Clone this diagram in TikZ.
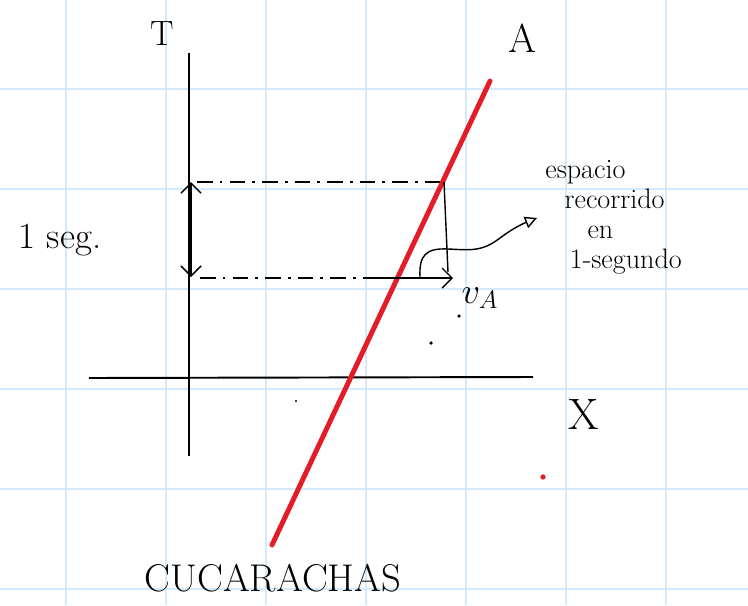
\documentclass[tikz,border=0pt]{standalone}
\usepackage{tikz}
\usetikzlibrary{arrows.meta,positioning}
\definecolor{gridblue}{RGB}{212,234,250}
\definecolor{penred}{RGB}{228,28,40}
\tikzset{
  >={Straight Barb[length=2mm]},
  axis/.style={draw, line width=1.1pt},
  worldline/.style={draw=penred, line width=2.8pt, line cap=round},
  guide/.style={draw, line width=0.8pt, dash pattern=on 9pt off 4pt on 1.5pt off 4pt},
  lbl/.style={inner sep=0pt, font=\fontsize{20}{24}\selectfont},
  note/.style={inner sep=0pt, align=left, anchor=north west,
    font=\fontsize{16}{17}\selectfont},
  speck/.style={fill, circle, inner sep=0pt, minimum size=2pt},
}

\begin{document}
\begin{tikzpicture}[x=0.2mm, y=-0.2mm]
  \useasboundingbox (0,0) rectangle (748,605);
  % squared paper
  \foreach \gx in {66,166,...,666}
    \draw[gridblue, line width=0.9pt] (\gx,0) -- (\gx,605);
  \foreach \gy in {89,189,...,589}
    \draw[gridblue, line width=0.9pt] (0,\gy) -- (748,\gy);

  % axes
  \coordinate (tTop) at (189,53);
  \coordinate (tBot) at (189,456);
  \coordinate (xL) at (89,378);
  \coordinate (xR) at (533,377);
  \draw[axis] (tTop) -- (tBot);
  \draw[axis] (xL) -- (xR);
  \node[lbl] (lblT) at (162,34) {T};
  \node[lbl, font=\fontsize{25}{28}\selectfont] (lblX) at (584,414) {X};

  % world line of A
  \coordinate (aBot) at (272,545);
  \coordinate (aTop) at (490,81);
  \draw[worldline] (aBot) -- (aTop);
  \node[lbl, font=\fontsize{23}{26}\selectfont] (lblA) at (523,38) {A};
  \node[lbl, font=\fontsize{22}{26}\selectfont] (cuca) at (273,578) {CUCARACHAS};

  % one second
  \coordinate (s1) at (197,182);
  \coordinate (p1) at (444,182);
  \coordinate (s0) at (200,278);
  \coordinate (g0) at (372,278);
  \coordinate (vEnd) at (453,278);
  \coordinate (q) at (448,272);
  \draw[guide] (s1) -- (p1);
  \draw[guide] (s0) -- (g0);
  \draw[line width=0.8pt] (p1) -- (q);
  \draw[line width=0.8pt, ->] (g0) -- (vEnd);
  \coordinate (u1) at (191,182);
  \coordinate (u0) at (191,277);
  \draw[line width=0.9pt, <->] (u0) -- (u1);
  \node[lbl, font=\fontsize{21}{24}\selectfont] (seg) at (60,240) {1 seg.};
  \node[lbl, font=\fontsize{22}{26}\selectfont] (vA) at (480,298) {$v_A$};

  % note
  \node[note] (nota) at (545,160)
    {espacio\\\kern11pt recorrido\\\kern24pt en\\\kern14pt 1-segundo};
  \coordinate (c0) at (420,277);
  \coordinate (c1) at (537,218);
  \draw[line width=0.8pt, -{Triangle[open, length=2.4mm, width=2.4mm]}]
    (c0) .. controls (419,255) and (426,248) .. (448,249)
         .. controls (470,250) and (482,252) .. (500,238)
         .. controls (512,229) and (522,224) .. (c1);

  % specks
  \node[speck] (d1) at (459,316) {};
  \node[speck] (d2) at (431,343) {};
  \node[speck, minimum size=1.2pt] (d3) at (296,401) {};
  \node[speck, penred, minimum size=3pt] (d4) at (543,477) {};
\end{tikzpicture}
\end{document}
